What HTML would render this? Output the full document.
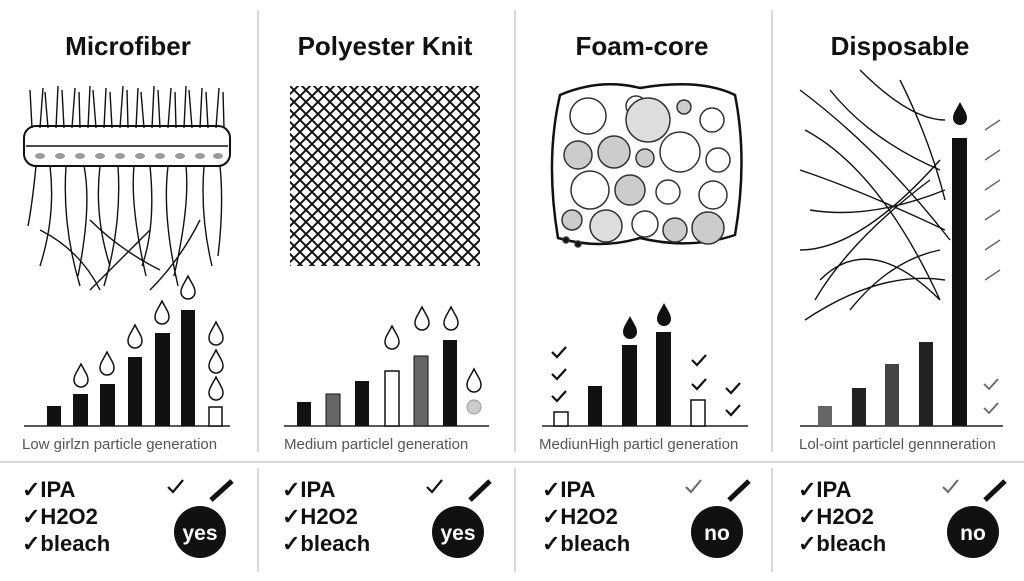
<!DOCTYPE html>
<html><head><meta charset="utf-8"><style>
body{margin:0;background:#fff;width:1024px;height:576px;overflow:hidden}
text{font-family:"Liberation Sans",sans-serif}
</style></head><body>
<svg width="1024" height="576" viewBox="0 0 1024 576" xmlns="http://www.w3.org/2000/svg">
<defs>
<pattern id="knit" width="12" height="12" patternUnits="userSpaceOnUse">
<path d="M0 0L12 12M12 0L0 12" stroke="#111" stroke-width="2"/>
</pattern>
<path id="drop" d="M0 -14 C4 -6 7 -3 7 2 A7 7 0 0 1 -7 2 C-7 -3 -4 -6 0 -14Z"/>
</defs>
<g stroke="#ccc" stroke-width="1.5">
<line x1="258" y1="10" x2="258" y2="452"/><line x1="515" y1="10" x2="515" y2="452"/><line x1="772" y1="10" x2="772" y2="452"/>
<line x1="258" y1="468" x2="258" y2="572"/><line x1="515" y1="468" x2="515" y2="572"/><line x1="772" y1="468" x2="772" y2="572"/>
<line x1="0" y1="462" x2="1024" y2="462"/>
</g>
<g font-size="26" font-weight="bold" text-anchor="middle" fill="#111">
<text x="128" y="55">Microfiber</text><text x="385" y="55">Polyester Knit</text><text x="642" y="55">Foam-core</text><text x="900" y="55">Disposable</text>
</g>
<!-- microfiber -->
<g stroke="#111" stroke-width="1.4" fill="none">
<path d="M32 128 l-2 -38 M40 128 l3 -40 M48 128 l-3 -36 M56 128 l2 -42 M64 128 l-2 -38 M72 128 l3 -40 M80 128 l-1 -36 M88 128 l2 -42 M96 128 l-3 -38 M104 128 l2 -40 M112 128 l-2 -36 M120 128 l3 -42 M128 128 l-1 -38 M136 128 l2 -40 M144 128 l-3 -36 M152 128 l2 -42 M160 128 l-2 -38 M168 128 l3 -40 M176 128 l-1 -36 M184 128 l2 -42 M192 128 l-3 -38 M200 128 l2 -40 M208 128 l-2 -36 M216 128 l3 -40 M224 128 l-1 -36"/>
<rect x="24" y="126" width="206" height="40" rx="12" stroke-width="2"/>
<path d="M26 146 H228" />
<path d="M36 166 q-4 40 -8 60 M50 166 q6 50 -10 100 M66 166 q-4 60 14 120 M84 166 q8 40 -6 110 M100 166 q-6 50 10 100 M118 166 q4 60 -14 120 M134 166 q-4 40 12 110 M150 166 q6 60 -8 100 M168 166 q-6 50 10 120 M186 166 q4 40 -12 110 M204 166 q-4 50 8 100 M220 166 q4 40 -2 90 M40 230 q40 20 60 60 M90 220 q30 30 70 50 M150 230 q-30 30 -60 60 M200 220 q-20 40 -50 70"/>
</g>
<g fill="#999"><ellipse cx="40" cy="156" rx="5" ry="3"/><ellipse cx="60" cy="156" rx="5" ry="3"/><ellipse cx="80" cy="156" rx="5" ry="3"/><ellipse cx="100" cy="156" rx="5" ry="3"/><ellipse cx="120" cy="156" rx="5" ry="3"/><ellipse cx="140" cy="156" rx="5" ry="3"/><ellipse cx="160" cy="156" rx="5" ry="3"/><ellipse cx="180" cy="156" rx="5" ry="3"/><ellipse cx="200" cy="156" rx="5" ry="3"/><ellipse cx="218" cy="156" rx="5" ry="3"/></g>
<!-- knit -->
<rect x="290" y="86" width="190" height="180" fill="url(#knit)"/>
<!-- foam -->
<path d="M560 95 Q600 78 640 88 Q700 78 735 95 Q748 160 735 235 Q690 250 640 238 Q600 250 558 238 Q545 160 560 95Z" fill="#fff" stroke="#111" stroke-width="2.5"/>
<g stroke="#333" stroke-width="1.5" fill="#ccc">
<circle cx="588" cy="116" r="18" fill="#fff"/><circle cx="636" cy="106" r="10" fill="#fff"/><circle cx="684" cy="107" r="7"/><circle cx="712" cy="120" r="12" fill="#fff"/><circle cx="648" cy="120" r="22" fill="#ddd"/><circle cx="578" cy="155" r="14"/><circle cx="614" cy="152" r="16"/><circle cx="645" cy="158" r="9"/><circle cx="680" cy="152" r="20" fill="#fff"/><circle cx="718" cy="160" r="12" fill="#fff"/><circle cx="590" cy="190" r="19" fill="#fff"/><circle cx="630" cy="190" r="15"/><circle cx="668" cy="192" r="12" fill="#fff"/><circle cx="713" cy="195" r="14" fill="#fff"/><circle cx="572" cy="220" r="10"/><circle cx="606" cy="226" r="16" fill="#ddd"/><circle cx="645" cy="224" r="13" fill="#fff"/><circle cx="675" cy="230" r="12"/><circle cx="708" cy="228" r="16"/><circle cx="566" cy="240" r="3" fill="#111"/><circle cx="578" cy="244" r="3" fill="#111"/>
</g>
<!-- disposable -->
<g stroke="#111" stroke-width="1.4" fill="none">
<path d="M800 90 Q880 150 950 240 M805 130 Q880 170 940 300 M800 170 Q860 190 945 230 M810 210 Q870 220 945 190 M800 250 Q860 250 940 160 M815 300 Q850 240 930 180 M830 90 Q870 140 940 170 M860 70 Q910 120 945 120 M900 80 Q930 140 945 200 M805 320 Q880 270 945 280 M850 310 Q890 260 940 250 M820 280 Q870 230 940 300"/>
<path d="M985 130 l15 -10 M985 160 l15 -10 M985 190 l15 -10 M985 220 l15 -10 M985 250 l15 -10 M985 280 l15 -10" stroke="#666"/>
</g>
<rect x="952" y="138" width="15" height="288" fill="#111"/>
<use href="#drop" x="960" y="116" fill="#111"/>
<!-- baselines -->
<g stroke="#222" stroke-width="1.5"><line x1="24" y1="426" x2="230" y2="426"/><line x1="284" y1="426" x2="489" y2="426"/><line x1="542" y1="426" x2="748" y2="426"/><line x1="800" y1="426" x2="1003" y2="426"/></g>
<!-- bars p1 -->
<g fill="#111"><rect x="47" y="406" width="14" height="20"/><rect x="73" y="394" width="15" height="32"/><rect x="100" y="384" width="15" height="42"/><rect x="128" y="357" width="14" height="69"/><rect x="155" y="333" width="15" height="93"/><rect x="181" y="310" width="14" height="116"/></g>
<rect x="209" y="407" width="13" height="19" fill="#fff" stroke="#111" stroke-width="1.5"/>
<g fill="#fff" stroke="#111" stroke-width="1.5"><use href="#drop" x="81" y="378"/><use href="#drop" x="107" y="366"/><use href="#drop" x="135" y="339"/><use href="#drop" x="162" y="315"/><use href="#drop" x="188" y="290"/><use href="#drop" x="216" y="336"/><use href="#drop" x="216" y="364"/><use href="#drop" x="216" y="391"/></g>
<!-- p2 -->
<rect x="297" y="402" width="14" height="24" fill="#111"/><rect x="326" y="394" width="14" height="32" fill="#666" stroke="#111"/><rect x="355" y="381" width="14" height="45" fill="#111"/><rect x="385" y="371" width="14" height="55" fill="#fff" stroke="#111" stroke-width="1.5"/><rect x="414" y="356" width="14" height="70" fill="#666" stroke="#111"/><rect x="443" y="340" width="14" height="86" fill="#111"/>
<circle cx="474" cy="407" r="7" fill="#ccc" stroke="#999"/>
<g fill="#fff" stroke="#111" stroke-width="1.5"><use href="#drop" x="392" y="340"/><use href="#drop" x="422" y="321"/><use href="#drop" x="451" y="321"/><use href="#drop" x="474" y="383"/></g>
<!-- p3 -->
<rect x="554" y="412" width="14" height="14" fill="#fff" stroke="#111" stroke-width="1.5"/><rect x="588" y="386" width="14" height="40" fill="#111"/><rect x="622" y="345" width="15" height="81" fill="#111"/><rect x="656" y="332" width="15" height="94" fill="#111"/><rect x="691" y="400" width="14" height="26" fill="#fff" stroke="#111" stroke-width="1.5"/>
<g fill="#111"><use href="#drop" x="630" y="330"/><use href="#drop" x="664" y="317"/></g>
<g stroke="#111" stroke-width="2.2" fill="none"><path d="M552 352 l5 5 l9 -10 M552 374 l5 5 l9 -10 M552 396 l5 5 l9 -10 M692 360 l5 5 l9 -10 M692 384 l5 5 l9 -10 M726 388 l5 5 l9 -10 M726 410 l5 5 l9 -10"/></g>
<!-- p4 -->
<rect x="818" y="406" width="14" height="20" fill="#666"/><rect x="852" y="388" width="14" height="38" fill="#222"/><rect x="885" y="364" width="14" height="62" fill="#444"/><rect x="919" y="342" width="14" height="84" fill="#222"/>
<g stroke="#666" stroke-width="1.8" fill="none"><path d="M984 384 l5 5 l9 -10 M984 408 l5 5 l9 -10"/></g>
<!-- labels -->
<g font-size="15" fill="#555"><text x="22" y="449">Low girlzn particle generation</text><text x="284" y="449">Medium particlel generation</text><text x="539" y="449">MediunHigh particl generation</text><text x="799" y="449">Lol-oint particlel gennneration</text></g>
<!-- bottom -->
<g font-size="22" fill="#111" font-weight="600">
<text x="22" y="497">✓IPA</text><text x="22" y="524">✓H2O2</text><text x="22" y="551">✓bleach</text>
<text x="282" y="497">✓IPA</text><text x="282" y="524">✓H2O2</text><text x="282" y="551">✓bleach</text>
<text x="542" y="497">✓IPA</text><text x="542" y="524">✓H2O2</text><text x="542" y="551">✓bleach</text>
<text x="798" y="497">✓IPA</text><text x="798" y="524">✓H2O2</text><text x="798" y="551">✓bleach</text>
</g>
<g stroke="#111" stroke-width="2.2" fill="none"><path d="M168 487 l5 5 l10 -12 M427 487 l5 5 l10 -12"/></g>
<g stroke="#666" stroke-width="2" fill="none"><path d="M686 487 l5 5 l10 -12 M943 487 l5 5 l10 -12"/></g>
<g stroke="#111" stroke-width="5"><line x1="211" y1="500" x2="232" y2="481"/><line x1="470" y1="500" x2="490" y2="481"/><line x1="729" y1="500" x2="749" y2="481"/><line x1="985" y1="500" x2="1005" y2="481"/></g>
<g fill="#111"><circle cx="200" cy="532" r="26"/><circle cx="458" cy="532" r="26"/><circle cx="717" cy="532" r="26"/><circle cx="973" cy="532" r="26"/></g>
<g font-size="21" font-weight="bold" fill="#fff" text-anchor="middle"><text x="200" y="540">yes</text><text x="458" y="540">yes</text><text x="717" y="540">no</text><text x="973" y="540">no</text></g>
</svg>
</body></html>
